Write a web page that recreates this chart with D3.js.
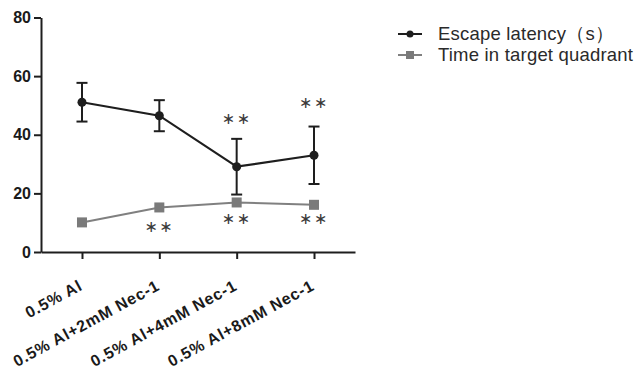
<!DOCTYPE html>
<html><head><meta charset="utf-8">
<script src="https://cdn.jsdelivr.net/npm/d3@7"></script>
<style>
body{margin:0;background:#fff;}
svg{display:block;font-family:"Liberation Sans",Arial,sans-serif;}
</style></head>
<body><svg id="c" width="644" height="370"></svg>
<script>
const categories = ["0.5% Al","0.5% Al+2mM Nec-1","0.5% Al+4mM Nec-1","0.5% Al+8mM Nec-1"];
const escapeMean = [51.1, 46.5, 29.1, 33.0];
const escapeErr  = [6.6, 5.3, 9.5, 9.8];
const timeMean   = [10.1, 15.2, 16.9, 16.1];
const timeErr    = [0.4, 0.9, 0.5, 0.4];
const escapeStarY = [null, null, 45.8, 51.3];
const timeStarY   = [null, 9.0, 11.5, 11.5];
const yTicks = [0, 20, 40, 60, 80];
const seriesNames = ["Escape latency（s）", "Time in target quadrant"];

const svg = d3.select("#c");
const x = d3.scalePoint().domain(categories).range([41, 355]).padding(0.53);
const y = d3.scaleLinear().domain([0, 80]).range([252, 17.5]);
const axisColor = "#1e1e1e";

// Y axis
const ya = svg.append("g").attr("transform","translate(41,0)")
  .call(d3.axisLeft(y).tickValues(yTicks).tickSize(7).tickPadding(3).tickSizeOuter(0));
ya.select(".domain").attr("stroke", axisColor).attr("stroke-width", 2);
ya.selectAll(".tick line").attr("stroke", axisColor).attr("stroke-width", 2);
ya.selectAll(".tick text").attr("fill","#1a1a1a").style("font-size","16px").style("font-weight","bold")
  .style("font-family",'"Liberation Sans",Arial,sans-serif');

// X axis
const xa = svg.append("g").attr("transform","translate(0,252)")
  .call(d3.axisBottom(x).tickSize(7).tickSizeOuter(0).tickFormat(""));
xa.select(".domain").attr("stroke", axisColor).attr("stroke-width", 2);
xa.selectAll(".tick line").attr("stroke", axisColor).attr("stroke-width", 2);

svg.append("g").selectAll("text").data(categories).join("text")
  .attr("transform", d => `translate(${x(d)+1.5},289) rotate(-28.5)`)
  .attr("text-anchor","end")
  .attr("fill","#1a1a1a")
  .style("font-size","16px").style("font-weight","bold").style("letter-spacing","0.8px")
  .text(d => d);

const line = d3.line().x((d,i)=>x(categories[i])).y(d=>y(d));

// Time series (grey)
const grey = "#808080";
svg.append("path").datum(timeMean).attr("d", line).attr("fill","none").attr("stroke", grey).attr("stroke-width", 2);
const tg = svg.append("g");
timeMean.forEach((v,i)=>{
  const cx = x(categories[i]);
  tg.append("line").attr("x1",cx).attr("x2",cx).attr("y1",y(v+timeErr[i])).attr("y2",y(v-timeErr[i])).attr("stroke",grey).attr("stroke-width",2);
  tg.append("rect").attr("x",cx-5).attr("y",y(v)-5).attr("width",10).attr("height",10).attr("fill","#7a7a7a");
});

// Escape series (black)
const blk = "#1e1e1e";
svg.append("path").datum(escapeMean).attr("d", line).attr("fill","none").attr("stroke", blk).attr("stroke-width", 2.2);
const eg = svg.append("g");
escapeMean.forEach((v,i)=>{
  const cx = x(categories[i]);
  const t = y(v+escapeErr[i]), b = y(v-escapeErr[i]);
  eg.append("line").attr("x1",cx).attr("x2",cx).attr("y1",t).attr("y2",b).attr("stroke",blk).attr("stroke-width",2);
  eg.append("line").attr("x1",cx-5.5).attr("x2",cx+5.5).attr("y1",t).attr("y2",t).attr("stroke",blk).attr("stroke-width",2);
  eg.append("line").attr("x1",cx-5.5).attr("x2",cx+5.5).attr("y1",b).attr("y2",b).attr("stroke",blk).attr("stroke-width",2);
  eg.append("circle").attr("cx",cx).attr("cy",y(v)).attr("r",4.5).attr("fill",blk);
});

// Significance stars
function stars(arr){
  svg.append("g").selectAll("text").data(arr.map((v,i)=>({v,i})).filter(d=>d.v!==null)).join("text")
    .attr("x", d=>x(categories[d.i])).attr("y", d=>y(d.v)+6)
    .attr("text-anchor","middle").attr("fill","#3a3a3a")
    .style("font-size","16px").style("font-family",'"DejaVu Sans",sans-serif').style("letter-spacing","1.5px")
    .text("∗∗");
}
stars(escapeStarY);
stars(timeStarY);

// Legend
const lg = svg.append("g");
const legY = [34, 55];
const legCol = [blk, grey];
seriesNames.forEach((n,i)=>{
  lg.append("line").attr("x1",398).attr("x2",422).attr("y1",legY[i]).attr("y2",legY[i]).attr("stroke",legCol[i]).attr("stroke-width",2);
  if(i===0) lg.append("circle").attr("cx",410).attr("cy",legY[i]).attr("r",3.5).attr("fill",blk);
  else lg.append("rect").attr("x",406).attr("y",legY[i]-4).attr("width",8).attr("height",8).attr("fill","#7a7a7a");
  lg.append("text").attr("x",438).attr("y",legY[i]+6).attr("fill","#2a2a2a").style("font-size","18.5px").style("letter-spacing","0.2px").text(n);
});
</script></body></html>
